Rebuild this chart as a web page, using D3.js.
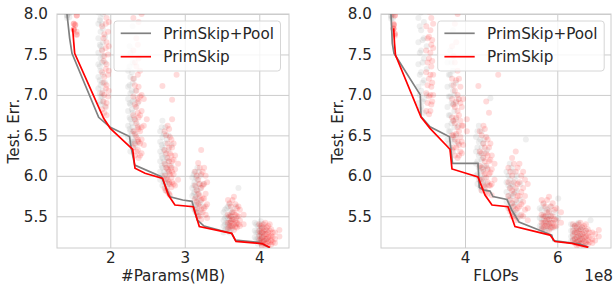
<!DOCTYPE html>
<html><head><meta charset="utf-8">
<script src="https://cdn.jsdelivr.net/npm/d3@7/dist/d3.min.js"></script>
<style>
body{margin:0;background:#fff}
svg{display:block}
text{font-family:"DejaVu Sans",sans-serif;fill:#262626}
</style>
</head><body>
<svg id="c" width="613" height="289"></svg>
<script>
// ---------- data ----------
const seriesNames = ["PrimSkip+Pool", "PrimSkip"];
const yTicks = [5.5, 6.0, 6.5, 7.0, 7.5, 8.0];
const paramsTicks = [2, 3, 4];
const flopsTicks = [4, 6];   // ×1e8

// Pareto lines: [x, test err]
const poolParamsLine = [[1.419,8.0],[1.455,7.70],[1.486,7.514],[1.844,6.723],[2.000,6.600],[2.258,6.486],[2.278,6.36],[2.328,6.133],[2.685,5.989],[2.744,5.862],[2.801,5.742],[2.972,5.701],[3.097,5.685],[3.168,5.454],[3.258,5.379],[3.630,5.287],[3.678,5.206],[3.987,5.178],[4.134,5.116]];
const skipParamsLine = [[1.495,7.823],[1.509,7.658],[1.522,7.514],[1.911,6.711],[2.000,6.587],[2.301,6.328],[2.332,6.093],[2.466,6.031],[2.703,5.969],[2.779,5.763],[2.868,5.639],[3.114,5.618],[3.195,5.373],[3.630,5.289],[3.687,5.190],[4.036,5.163],[4.143,5.114]];
const poolFlopsLine = [[2.397,8.0],[2.425,7.638],[2.462,7.514],[3.031,7.0],[3.047,6.734],[3.242,6.607],[3.664,6.483],[3.729,6.155],[4.282,6.155],[4.310,5.855],[4.412,5.824],[4.542,5.812],[4.607,5.744],[4.910,5.707],[5.012,5.578],[5.170,5.429],[5.879,5.268],[5.913,5.200],[6.492,5.157],[6.672,5.120]];
const skipFlopsLine = [[2.455,7.823],[2.472,7.642],[2.494,7.493],[3.047,6.727],[3.242,6.587],[3.675,6.328],[3.718,6.085],[4.282,5.985],[4.433,5.763],[4.585,5.639],[4.932,5.618],[5.083,5.373],[5.842,5.268],[5.950,5.188],[6.318,5.166],[6.672,5.116]];

// Scatter columns: [x, [test err values]]
const poolParamsPts = [
 [1.42,[8.03,7.98,7.95,7.98]],[1.45,[8.01,7.96,8.02]],
 [1.84,[8.02,7.88,7.70,7.52,7.38,7.22,7.08]],[1.87,[7.95,7.78,7.60,7.45,7.30,7.12,6.98,6.88]],[1.90,[8.00,7.82,7.65,7.48,7.25,7.05,6.92]],[1.93,[7.72,7.40,7.15,6.86]],
 [1.86,[7.92,7.62,7.35,7.18,7.02,6.92]],[1.89,[7.88,7.56,7.40,7.15,6.98]],
 [2.24,[7.30,7.10,6.95,6.80,6.62,6.48]],[2.27,[7.52,7.22,7.02,6.88,6.70,6.55,6.40,6.30]],[2.30,[7.85,7.40,7.15,6.92,6.78,6.60,6.45,6.35]],[2.34,[7.05,6.85,6.68,6.50,6.38]],[2.37,[6.90,6.62,6.42]],
 [2.26,[7.60,7.35,7.12,6.90,6.72,6.58]],[2.29,[7.28,7.05,6.82,6.65,6.52,6.42]],[2.32,[7.20,6.95,6.72,6.55,6.42]],
 [2.67,[6.55,6.42,6.30,6.18,6.05,5.95]],[2.70,[6.68,6.48,6.35,6.22,6.10,5.98,5.88]],[2.74,[6.60,6.40,6.26,6.14,6.02,5.92,5.82]],[2.78,[6.50,6.32,6.18,6.05,5.90]],[2.82,[6.38,6.12]],
 [2.69,[6.60,6.38,6.25,6.12,6.00]],[2.72,[6.52,6.32,6.18,6.05,5.92]],[2.76,[6.45,6.22,6.10,5.98,5.86]],
 [3.10,[5.98,5.85,5.75,5.62]],[3.13,[6.05,5.92,5.80,5.70,5.58]],[3.17,[6.10,5.95,5.82,5.72,5.60,5.52]],[3.21,[6.00,5.85,5.68,5.55]],[3.25,[5.90,5.62]],
 [3.12,[6.02,5.88,5.78,5.65]],[3.15,[5.98,5.86,5.74,5.64,5.55]],[3.19,[6.05,5.90,5.78,5.66]],
 [3.52,[5.55,5.45,5.38,5.30]],[3.56,[5.60,5.50,5.42,5.35]],[3.60,[5.65,5.52,5.45,5.38,5.30]],[3.64,[5.55,5.46,5.36]],[3.69,[5.62,5.48,5.40]],[3.72,[5.85]],
 [3.54,[5.58,5.48,5.40,5.33]],[3.58,[5.62,5.48,5.40,5.33]],[3.62,[5.58,5.50,5.42,5.34]],
 [3.94,[5.42,5.32,5.24]],[3.98,[5.38,5.30,5.22,5.16]],[4.02,[5.44,5.34,5.26,5.19]],[4.06,[5.36,5.28,5.20]],[4.10,[5.32,5.22]],
 [3.96,[5.40,5.30,5.22]],[4.00,[5.36,5.28,5.21]],[4.04,[5.40,5.30,5.23]]
];
const skipParamsPts = [
 [1.51,[7.88,7.81,7.81,7.80,7.88]],[1.55,[7.98,7.78,7.74,7.98,7.75]],[1.53,[7.86,7.87]],
 [1.89,[7.85,7.55,7.28,7.02,6.82]],[1.92,[8.03,7.75,7.48,7.22,7.00,6.78]],[1.95,[7.95,7.65,7.38,7.12,6.90,6.75]],[1.98,[7.90,7.60,7.30,7.05]],
 [1.91,[7.70,7.42,7.15,6.92]],[1.94,[7.88,7.58,7.32,7.08,6.85]],[1.97,[7.78,7.50,7.25,6.98]],
 [2.31,[7.95,7.55,7.20,6.98,6.75,6.55,6.35]],[2.35,[7.70,7.35,7.05,6.85,6.65,6.48,6.30]],[2.38,[7.90,7.45,7.10,6.92,6.72,6.58,6.42,6.22]],[2.42,[8.00,7.00,6.80,6.60,6.45,6.28]],[2.45,[6.95,6.62,6.38]],[2.49,[6.70]],
 [2.33,[7.40,7.12,6.88,6.70,6.52,6.40,6.25]],[2.37,[7.62,7.25,6.95,6.78,6.60,6.45,6.32]],[2.40,[7.30,6.98,6.75,6.55,6.40,6.25]],
 [2.70,[7.11]],[2.89,[7.25]],
 [2.73,[6.55,6.32,6.15,6.00,5.85]],[2.77,[6.62,6.40,6.22,6.08,5.95,5.80]],[2.80,[6.48,6.28,6.12,6.02,5.90,5.76]],[2.83,[6.94,6.70,6.35,6.18,6.05,5.92]],[2.87,[6.25,6.08,5.88]],[2.91,[6.15,5.95]],
 [2.75,[6.50,6.28,6.10,5.96,5.82]],[2.79,[6.58,6.35,6.18,6.05,5.92,5.78]],[2.82,[6.45,6.25,6.10,5.98,5.86]],[2.85,[6.40,6.20,6.02,5.90]],
 [3.14,[6.05,5.88,5.72,5.58]],[3.18,[6.16,5.95,5.78,5.65,5.50]],[3.22,[6.32,6.02,5.85,5.70,5.58,5.46]],[3.26,[6.10,5.90,5.72,5.60]],[3.30,[5.92,5.65,5.48]],
 [3.16,[6.00,5.82,5.68,5.55]],[3.20,[6.10,5.90,5.75,5.62,5.50]],[3.24,[6.05,5.88,5.72,5.55]],[3.28,[6.00,5.78,5.62,5.52]],
 [3.58,[5.70,5.52,5.42,5.35]],[3.62,[5.62,5.50,5.44,5.38]],[3.66,[5.74,5.55,5.46,5.40,5.33]],[3.70,[5.60,5.50,5.42,5.36]],[3.74,[5.58,5.45,5.38]],[3.79,[5.52,5.40]],
 [3.60,[5.66,5.50,5.42,5.36]],[3.64,[5.70,5.55,5.46,5.38]],[3.68,[5.65,5.52,5.44,5.37]],[3.72,[5.62,5.50,5.40]],
 [4.00,[5.40,5.32,5.26,5.20]],[4.04,[5.36,5.30,5.24,5.18,5.14]],[4.08,[5.42,5.34,5.28,5.22,5.16]],[4.12,[5.38,5.30,5.24,5.19,5.13]],[4.16,[5.34,5.26,5.20,5.15]],[4.21,[5.30,5.22,5.17]],[4.27,[5.33,5.25]],
 [4.02,[5.38,5.30,5.22,5.17]],[4.06,[5.40,5.32,5.25,5.19,5.15]],[4.10,[5.36,5.28,5.22,5.17]],[4.14,[5.40,5.32,5.25,5.18]],[4.18,[5.30,5.24,5.18]]
];
const poolFlopsPts = [
 [2.40,[8.03,7.98,7.94,7.97]],[2.44,[8.00,7.95,8.02]],
 [2.99,[7.95,7.65,7.38,7.10,6.90]],[3.05,[8.02,7.80,7.55,7.28,7.05,6.85]],[3.11,[7.90,7.70,7.45,7.18,6.95,6.78]],[3.17,[7.60,7.32,7.00]],
 [3.02,[7.85,7.52,7.25,7.00,6.82]],[3.08,[7.68,7.40,7.15,6.92]],
 [3.62,[7.40,7.10,6.85,6.62,6.45]],[3.68,[7.55,7.25,6.98,6.75,6.55,6.35]],[3.74,[7.80,7.30,7.05,6.88,6.68,6.48,6.30]],[3.80,[7.15,6.90,6.70,6.50]],[3.86,[6.95,6.62,6.40]],
 [3.65,[7.25,6.98,6.75,6.55,6.40]],[3.71,[7.40,7.12,6.90,6.65,6.45]],[3.77,[7.00,6.80,6.60,6.42]],
 [4.24,[6.48,6.30,6.15,6.00]],[4.30,[6.62,6.42,6.25,6.10,5.95]],[4.36,[6.55,6.35,6.20,6.05,5.92,5.82]],[4.42,[6.45,6.28,6.12,5.98,5.86]],[4.48,[6.32,6.10,5.90]],[4.55,[6.96]],
 [4.27,[6.55,6.35,6.18,6.02,5.90]],[4.33,[6.45,6.28,6.12,5.98,5.86]],[4.39,[6.40,6.22,6.08,5.92]],
 [4.90,[6.05,5.92,5.80,5.68]],[4.97,[6.15,5.95,5.85,5.72,5.60]],[5.04,[6.05,5.88,5.75,5.62,5.55]],[5.12,[6.00,5.82,5.68,5.55]],[5.20,[5.90,5.70,5.50]],[5.32,[6.45]],
 [4.94,[6.00,5.88,5.75,5.62]],[5.01,[6.10,5.90,5.78,5.66,5.56]],[5.08,[5.95,5.80,5.65,5.52]],
 [5.62,[5.60,5.48,5.38]],[5.70,[5.65,5.52,5.44,5.35]],[5.78,[5.58,5.48,5.40,5.32]],[5.86,[5.62,5.50,5.42,5.35]],[5.94,[5.55,5.45,5.36]],[6.02,[5.72,5.48]],
 [5.66,[5.58,5.46,5.38,5.32]],[5.74,[5.60,5.50,5.42,5.34]],[5.82,[5.55,5.46,5.38]],
 [6.30,[5.40,5.32,5.25,5.19]],[6.38,[5.38,5.30,5.22]],[6.46,[5.42,5.34,5.26,5.18]],[6.54,[5.36,5.28,5.21]],[6.62,[5.32,5.24,5.17]],[6.72,[5.45]],
 [6.34,[5.36,5.28,5.21]],[6.42,[5.40,5.32,5.24,5.18]],[6.50,[5.34,5.26,5.20]]
];
const skipFlopsPts = [
 [2.45,[7.82,7.88,7.81,7.82]],[2.48,[7.98,7.76,7.73,7.98,7.75]],[2.46,[7.86,7.87]],
 [3.16,[7.85,7.55,7.28,7.02,6.80]],[3.22,[8.03,7.72,7.45,7.20,6.98,6.76]],[3.27,[7.95,7.62,7.35,7.10,6.88]],[3.31,[7.88,7.58,7.25,7.00]],
 [3.19,[7.70,7.40,7.12,6.90]],[3.25,[7.80,7.52,7.25,7.00,6.80]],[3.29,[7.68,7.42,7.15,6.92]],
 [3.72,[7.60,7.20,6.95,6.72,6.50,6.32]],[3.78,[7.88,7.40,7.05,6.85,6.65,6.45,6.25]],[3.84,[8.00,7.30,7.00,6.80,6.60,6.42,6.22]],[3.90,[7.10,6.90,6.68,6.48,6.30]],[3.96,[6.95,6.62,6.38]],[4.04,[6.70,6.55]],
 [3.75,[7.48,7.12,6.88,6.68,6.50,6.35]],[3.81,[7.65,7.18,6.92,6.72,6.52,6.35]],[3.87,[7.20,6.95,6.75,6.55,6.38,6.25]],[3.93,[6.85,6.62,6.42,6.28]],
 [4.29,[7.11]],[4.72,[7.25]],
 [4.32,[6.55,6.30,6.12,5.95]],[4.40,[6.62,6.40,6.22,6.05,5.88]],[4.46,[6.92,6.48,6.28,6.12,5.98,5.80]],[4.52,[6.78,6.35,6.18,6.02,5.88]],[4.58,[6.25,6.08,5.90,5.76]],[4.64,[6.15,5.95]],
 [4.36,[6.50,6.28,6.10,5.95,5.82]],[4.43,[6.58,6.35,6.18,6.02,5.86]],[4.49,[6.45,6.25,6.08,5.92,5.78]],[4.55,[6.40,6.20,6.04,5.88]],
 [4.94,[6.10,5.92,5.75,5.60]],[5.02,[6.22,6.00,5.82,5.66,5.50]],[5.10,[6.30,6.05,5.85,5.70,5.58,5.45]],[5.18,[6.15,5.92,5.75,5.62]],[5.26,[6.05,5.85,5.68,5.50]],[5.36,[5.90,5.60,5.45]],
 [4.98,[6.05,5.85,5.70,5.56]],[5.06,[6.15,5.92,5.78,5.62,5.50]],[5.14,[6.10,5.90,5.75,5.60,5.48]],[5.22,[6.00,5.80,5.65,5.52]],[5.30,[5.95,5.75,5.58]],
 [5.66,[5.70,5.52,5.42,5.35]],[5.74,[5.62,5.50,5.44,5.38]],[5.82,[5.74,5.56,5.46,5.40,5.33]],[5.90,[5.66,5.50,5.42,5.36]],[5.98,[5.60,5.45,5.38]],[6.08,[5.55,5.42]],
 [5.70,[5.66,5.50,5.42,5.36]],[5.78,[5.70,5.55,5.46,5.38]],[5.86,[5.62,5.50,5.42,5.36]],[5.94,[5.58,5.46,5.38]],
 [6.34,[5.40,5.32,5.26,5.20]],[6.42,[5.36,5.30,5.24,5.18,5.14]],[6.50,[5.42,5.34,5.28,5.22,5.16]],[6.58,[5.38,5.30,5.24,5.19,5.13]],[6.66,[5.34,5.26,5.20,5.15]],[6.76,[5.30,5.22,5.17]],[6.90,[5.33,5.25]],
 [6.38,[5.38,5.30,5.22,5.17]],[6.46,[5.40,5.32,5.25,5.19,5.15]],[6.54,[5.36,5.28,5.22,5.17]],[6.62,[5.40,5.32,5.25,5.18]],[6.70,[5.30,5.24,5.18]],[6.82,[5.28,5.20]]
];

// ---------- drawing ----------
const svg = d3.select("#c");
const FS = 15.2;
const GRID = "#cccccc";
const GRAY = "#808080", RED = "#ff0000";
const flat = cols => cols.flatMap(([x, ys]) => ys.map(y => [x, y]));

function panel(opts) {
  const {left, right, top, bottom, xDomain, xTicks, xLabel, pool, skip, poolPts, skipPts, id, legendX, offsetText} = opts;
  const x = d3.scaleLinear().domain(xDomain).range([left, right]);
  const y = d3.scaleLinear().domain([5.108, 8.0]).range([bottom, top]);
  const g = svg.append("g");

  g.append("clipPath").attr("id", id).append("rect")
    .attr("x", left).attr("y", top).attr("width", right - left).attr("height", bottom - top);

  const ya = g.append("g").attr("transform", `translate(${left},0)`)
    .call(d3.axisLeft(y).tickValues(yTicks).tickSize(-(right - left)).tickPadding(9).tickFormat(d3.format(".1f")));
  const xa = g.append("g").attr("transform", `translate(0,${bottom})`)
    .call(d3.axisBottom(x).tickValues(xTicks).tickSize(-(bottom - top)).tickPadding(4).tickFormat(d3.format("d")));
  [ya, xa].forEach(a => {
    a.select(".domain").remove();
    a.selectAll(".tick line").attr("stroke", GRID).attr("stroke-width", 1);
    a.selectAll(".tick text").attr("font-size", FS).attr("font-family", "DejaVu Sans").attr("fill", "#262626");
  });

  g.append("rect").attr("x", left).attr("y", top).attr("width", right - left).attr("height", bottom - top)
    .attr("fill", "none").attr("stroke", GRID).attr("stroke-width", 1);

  const plot = g.append("g").attr("clip-path", `url(#${id})`);
  plot.selectAll("circle.p").data(flat(poolPts)).join("circle")
    .attr("cx", d => x(d[0])).attr("cy", d => y(d[1])).attr("r", 3)
    .attr("fill", GRAY).attr("fill-opacity", 0.13);
  plot.selectAll("circle.s").data(flat(skipPts)).join("circle")
    .attr("cx", d => x(d[0])).attr("cy", d => y(d[1])).attr("r", 3)
    .attr("fill", RED).attr("fill-opacity", 0.14);

  const line = d3.line().x(d => x(d[0])).y(d => y(d[1]));
  plot.append("path").datum(pool).attr("d", line).attr("fill", "none").attr("stroke", GRAY).attr("stroke-width", 1.7);
  plot.append("path").datum(skip).attr("d", line).attr("fill", "none").attr("stroke", RED).attr("stroke-width", 1.7);

  g.append("text").attr("x", (left + right) / 2).attr("y", 281).attr("text-anchor", "middle")
    .attr("font-size", FS).text(xLabel);
  g.append("text").attr("transform", `translate(${left - 38},${(top + bottom) / 2}) rotate(-90)`)
    .attr("text-anchor", "middle").attr("font-size", FS).text("Test. Err.");
  if (offsetText) {
    g.append("text").attr("x", right + 2).attr("y", 281).attr("text-anchor", "end")
      .attr("font-size", FS).text(offsetText);
  }

  const lg = g.append("g").attr("transform", `translate(${legendX},21)`);
  lg.append("rect").attr("x", 0).attr("y", 0).attr("width", 166.5).attr("height", 50).attr("rx", 3)
    .attr("fill", "#fff").attr("fill-opacity", 0.8).attr("stroke", "#d6d6d6").attr("stroke-width", 1);
  [[GRAY, seriesNames[0]], [RED, seriesNames[1]]].forEach(([c, t], i) => {
    const yy = 12.3 + i * 23.4;
    lg.append("line").attr("x1", 6.7).attr("x2", 37).attr("y1", yy).attr("y2", yy)
      .attr("stroke", c).attr("stroke-width", 1.7);
    lg.append("text").attr("x", 49.3).attr("y", yy + 5.6).attr("font-size", FS).text(t);
  });
}

panel({left: 57, right: 289, top: 14, bottom: 248, xDomain: [1.285, 4.399], xTicks: paramsTicks,
  xLabel: "#Params(MB)", pool: poolParamsLine, skip: skipParamsLine, poolPts: poolParamsPts, skipPts: skipParamsPts,
  id: "clipL", legendX: 114});
panel({left: 381, right: 611, top: 14, bottom: 248, xDomain: [2.18, 7.164], xTicks: flopsTicks,
  xLabel: "FLOPs", pool: poolFlopsLine, skip: skipFlopsLine, poolPts: poolFlopsPts, skipPts: skipFlopsPts,
  id: "clipR", legendX: 437.7, offsetText: "1e8"});
</script>
</body></html>
